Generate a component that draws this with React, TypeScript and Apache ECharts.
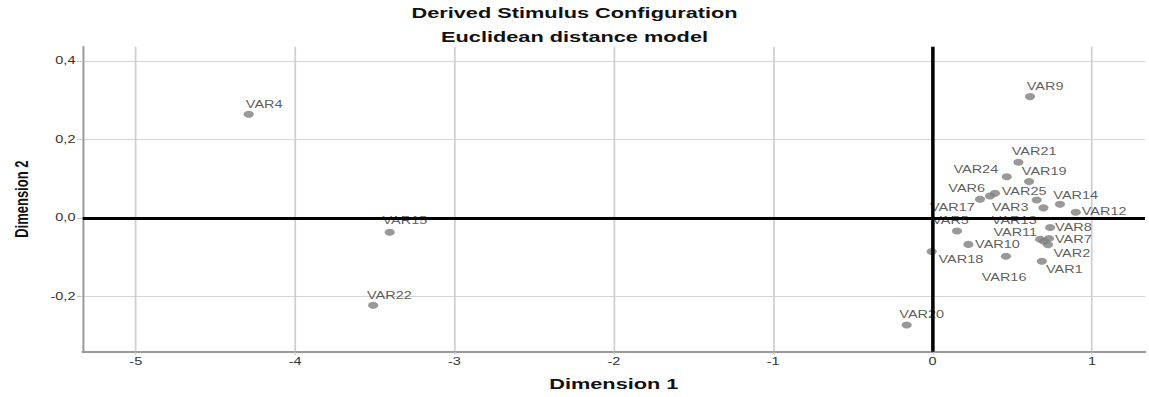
import React, { useEffect, useRef } from 'react';
import * as echarts from 'echarts';

// ---- data ----
const names = [
  'VAR1', 'VAR2', 'VAR3', 'VAR4', 'VAR5', 'VAR6', 'VAR7', 'VAR8', 'VAR9', 'VAR10',
  'VAR11', 'VAR12', 'VAR13', 'VAR14', 'VAR15', 'VAR16', 'VAR17', 'VAR18', 'VAR19', 'VAR20',
  'VAR21', 'VAR22', 'VAR23', 'VAR24', 'VAR25',
];
const dim1 = [
  0.686, 0.725, 0.696, -4.291, 0.154, 0.361, 0.731, 0.738, 0.612, 0.225,
  0.675, 0.899, 0.7, 0.8, -3.406, 0.461, 0.298, -0.005, 0.606, -0.162,
  0.539, -3.51, 0.654, 0.466, 0.392,
];
const dim2 = [
  -0.11, -0.068, 0.026, 0.264, -0.033, 0.056, -0.052, -0.024, 0.309, -0.067,
  -0.054, 0.015, -0.059, 0.035, -0.036, -0.097, 0.048, -0.085, 0.093, -0.272,
  0.142, -0.222, 0.046, 0.105, 0.063,
];
const xTickValues = [-5, -4, -3, -2, -1, 0, 1];
const yTickValues = [-0.2, 0, 0.2, 0.4];
const titleLines = ['Derived Stimulus Configuration', 'Euclidean distance model'];
const xName = 'Dimension 1';
const yName = 'Dimension 2';

// ---- label placement (style, not data) ----
const labelOffsets: Record<string, [number, number]> = {
  VAR1: [2.8, 8], VAR2: [3.7, 8.8], VAR3: [-35.6, 0], VAR4: [-2, -10], VAR5: [-17.2, -10],
  VAR6: [-28.8, -7.4], VAR7: [4.1, 1], VAR8: [3.4, 0], VAR9: [-2.3, -10], VAR10: [4.6, 0],
  VAR11: [-32.2, -6.7], VAR12: [4.1, -0.7], VAR13: [-36, -20.3], VAR14: [-4.6, -9],
  VAR15: [-5, -11], VAR16: [-16.8, 21.6], VAR17: [-34.5, 8.3], VAR18: [4.6, 8.7],
  VAR19: [-5, -9.7], VAR20: [-5.1, -10.4], VAR21: [-4.6, -10], VAR22: [-4.3, -9.5],
  VAR24: [-36.8, -7], VAR25: [4.6, -1.3],
};

const STRETCH = 1.4508;
const FULL_W = 1149;
const H = 397;
const W = Math.round(FULL_W / STRETCH);
const FONT = "'Liberation Sans', Arial, sans-serif";

const near = (v: number, list: number[]) => list.some((t) => Math.abs(t - v) < 1e-6);

export default function App() {
  const ref = useRef<HTMLDivElement>(null);

  useEffect(() => {
    if (!ref.current) return;
    const chart = echarts.init(ref.current, undefined, { renderer: 'svg' });

    const data = names.map((n, i) => {
      const off = labelOffsets[n];
      return {
        name: n,
        value: [dim1[i], dim2[i]],
        label: off ? { show: true, offset: off } : { show: false },
      };
    });

    chart.setOption({
      animation: false,
      backgroundColor: '#ffffff',
      title: {
        text: titleLines.join('\n'),
        left: 'center',
        top: 1,
        padding: 0,
        textStyle: {
          fontFamily: FONT,
          fontSize: 15,
          fontWeight: 'bold',
          color: '#111',
          lineHeight: 24,
        },
      },
      grid: {
        left: 57,
        right: 2.8,
        top: 46.7,
        bottom: 45.3,
        outerBoundsMode: 'none',
        containLabel: false,
      },
      xAxis: {
        type: 'value',
        min: -5.333,
        max: 1.333,
        name: xName,
        nameLocation: 'middle',
        nameGap: 25,
        nameTextStyle: { fontFamily: FONT, fontSize: 15, fontWeight: 'bold', color: '#111' },
        axisLine: { show: true, onZero: false, lineStyle: { color: '#9a9a9a', width: 2 } },
        axisTick: { show: true, length: 3, lineStyle: { color: '#c8c8c8', width: 1 } },
        axisLabel: {
          show: true,
          margin: 5,
          fontFamily: FONT,
          fontSize: 10,
          color: '#333',
          showMinLabel: false,
          showMaxLabel: false,
          formatter: (v: number) => (near(v, xTickValues) ? String(Math.round(v)) : ''),
        },
        splitLine: {
          show: true,
          showMinLine: false,
          showMaxLine: false,
          lineStyle: { color: '#cfcfcf', width: 1.2 },
        },
      },
      yAxis: {
        type: 'value',
        min: -0.34,
        max: 0.436,
        name: yName,
        nameLocation: 'middle',
        nameGap: 36,
        nameRotate: 90,
        nameTextStyle: { fontFamily: FONT, fontSize: 13, fontWeight: 'bold', color: '#111' },
        axisLine: { show: true, onZero: false, lineStyle: { color: '#9a9a9a', width: 1.4 } },
        axisTick: { show: true, length: 4, lineStyle: { color: '#c8c8c8', width: 1 } },
        axisLabel: {
          show: true,
          margin: 5,
          fontFamily: FONT,
          fontSize: 10,
          color: '#333',
          showMinLabel: false,
          showMaxLabel: false,
          formatter: (v: number) =>
            near(v, yTickValues) ? v.toFixed(1).replace('.', ',') : '',
        },
        splitLine: {
          show: true,
          showMinLine: false,
          showMaxLine: false,
          lineStyle: { color: '#d4d4d4', width: 1 },
        },
      },
      series: [
        {
          type: 'scatter',
          z: 2,
          symbol: 'circle',
          symbolSize: 7,
          itemStyle: { color: '#7f7f7f' },
          label: {
            show: true,
            position: 'inside',
            align: 'left',
            verticalAlign: 'middle',
            formatter: '{b}',
            fontFamily: FONT,
            fontSize: 10,
            color: '#333',
          },
          data,
        },
        {
          type: 'scatter',
          z: 5,
          silent: true,
          data: [],
          markLine: {
            silent: true,
            symbol: 'none',
            label: { show: false },
            lineStyle: { color: '#000', type: 'solid' },
            data: [
              { xAxis: 0, lineStyle: { color: '#000', width: 2.4, type: 'solid' } },
              { yAxis: 0, lineStyle: { color: '#000', width: 3, type: 'solid' } },
            ],
          },
        },
      ],
    });

    return () => chart.dispose();
  }, []);

  return (
    <div
      style={{
        position: 'absolute',
        left: 0,
        top: 0,
        width: FULL_W,
        height: H,
        overflow: 'hidden',
        background: '#fff',
      }}
    >
      <div
        ref={ref}
        style={{
          width: W,
          height: H,
          transform: `scaleX(${STRETCH})`,
          transformOrigin: '0 0',
        }}
      />
    </div>
  );
}
